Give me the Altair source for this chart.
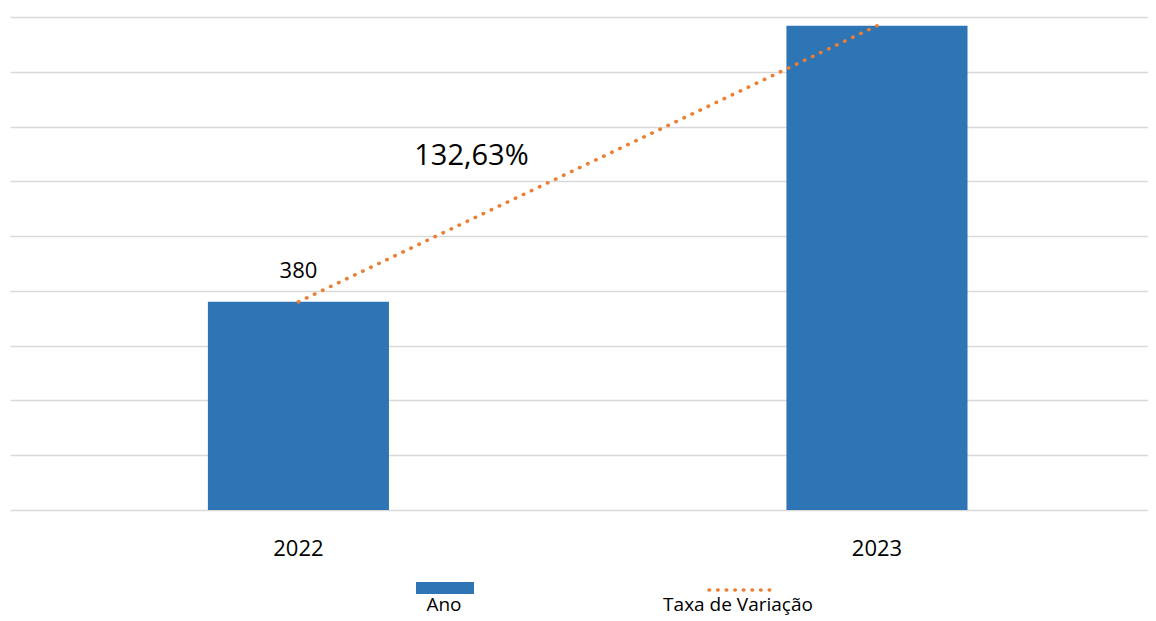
import altair as alt
import pandas as pd

years = ["2022", "2023"]
values = [380, 884]
series = ["Ano", "Taxa de Variação"]
variation_label = "132,63%"
y_ticks = [0, 100, 200, 300, 400, 500, 600, 700, 800, 900]

BLUE = "#2e75b6"
ORANGE = "#ed7d31"
FONT = "Open Sans"

df = pd.DataFrame({"year": years, "value": values})
one = pd.DataFrame({"k": [0]})

xscale = alt.Scale(domain=years, paddingInner=0.687, paddingOuter=0.327, align=0.523)
yscale = alt.Scale(domain=[0, 900], nice=False)

x_enc = alt.X("year:N", scale=xscale, sort=years,
              axis=alt.Axis(title=None, labelAngle=0, domain=False, ticks=False,
                            labelFontSize=22, labelFont=FONT, labelColor="#000000",
                            labelPadding=28, grid=False))
y_enc = alt.Y("value:Q", scale=yscale,
              axis=alt.Axis(title=None, labels=False, ticks=False, domain=False,
                            values=y_ticks, grid=True, gridColor="#d9d9d9", gridWidth=1.5))

base = alt.Chart(df)

bars = base.mark_bar(color=BLUE).encode(x=x_enc, y=y_enc)

line = base.mark_line(color=ORANGE, strokeWidth=3.5, strokeDash=[0.5, 8.4],
                      strokeCap="round").encode(
    x=alt.X("year:N", scale=xscale, sort=years),
    y=alt.Y("value:Q", scale=yscale),
)

bar_label = base.transform_filter(alt.datum.year == years[0]).mark_text(
    font=FONT, fontSize=22, color="#000000", dy=-24, baseline="alphabetic"
).encode(
    x=alt.X("year:N", scale=xscale, sort=years),
    y=alt.Y("value:Q", scale=yscale),
    text=alt.Text("value:Q"),
)

var_df = pd.DataFrame({"year": [years[0]], "pos": [630], "label": [variation_label]})
var_text = alt.Chart(var_df).mark_text(
    font=FONT, fontSize=29, color="#000000", dx=173, baseline="alphabetic"
).encode(
    x=alt.X("year:N", scale=xscale, sort=years),
    y=alt.Y("pos:Q", scale=yscale),
    text="label:N",
)

leg_rect = alt.Chart(one).mark_rect(color=BLUE).encode(
    x=alt.value(406), x2=alt.value(464), y=alt.value(565), y2=alt.value(577)
)
leg_line = alt.Chart(one).mark_rule(color=ORANGE, strokeWidth=3.5, strokeDash=[0.5, 8.1],
                                    strokeCap="round").encode(
    x=alt.value(699), x2=alt.value(760), y=alt.value(573)
)
leg_t1 = alt.Chart(one).mark_text(font=FONT, fontSize=19, color="#000000",
                                  baseline="alphabetic", text=series[0]).encode(
    x=alt.value(434), y=alt.value(594)
)
leg_t2 = alt.Chart(one).mark_text(font=FONT, fontSize=19, color="#000000",
                                  baseline="alphabetic", text=series[1]).encode(
    x=alt.value(728), y=alt.value(594)
)

chart = alt.layer(bars, line, bar_label, var_text, leg_rect, leg_line, leg_t1, leg_t2).properties(
    width=1138, height=493,
    padding={"left": 2, "top": 9, "right": 0, "bottom": 1},
    background="#ffffff",
).configure_view(stroke=None)

chart.save("out.html", embed_options={"renderer": "svg", "actions": False})
